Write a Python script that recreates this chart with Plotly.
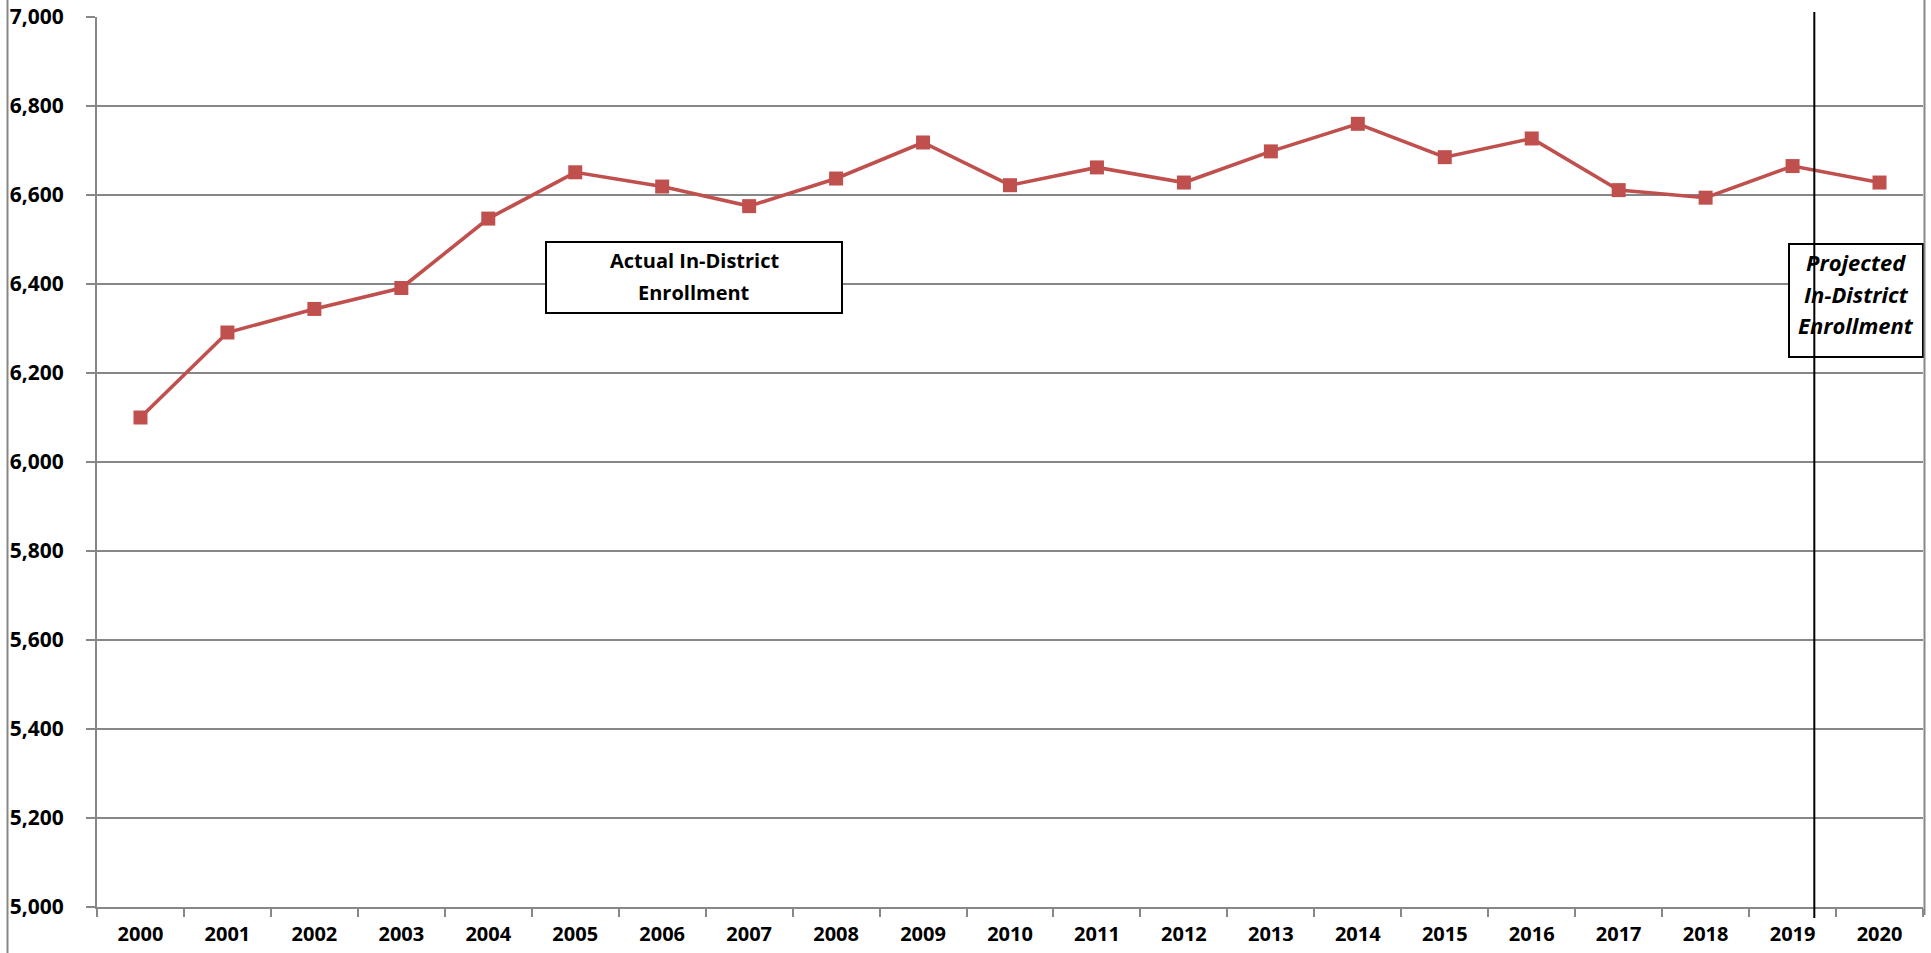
import plotly.graph_objects as go

years = [str(y) for y in range(2000, 2021)]
enrollment = [6100, 6291, 6344, 6391, 6547, 6651, 6619, 6575, 6637, 6718,
              6622, 6662, 6628, 6698, 6760, 6685, 6727, 6611, 6594, 6665, 6628]
y_ticks = list(range(5000, 7001, 200))
projection_divider = 19.25  # category-index position of divider line

# body margin removed by post_script, so page pixels == figure pixels
OFF = 0
W, H = 1931, 953
L, R, T, B = 97, 8, 17, 953 - 907
PW, PH = W - L - R, H - T - B

def px_x(p):  # page pixel -> paper fraction
    return (p - OFF - L) / PW

def px_y(p):
    return (H - B - (p - OFF)) / PH

RED = "#C0504D"
GRAY = "#878787"
FONT = "Open Sans"

fig = go.Figure()
fig.add_trace(go.Scatter(
    x=years, y=enrollment, mode="lines+markers",
    line=dict(color=RED, width=3.6),
    marker=dict(symbol="square", size=14, color=RED),
    showlegend=False, hoverinfo="x+y",
))

shapes = []
shapes.append(dict(type="rect", xref="paper", yref="paper",
                   x0=px_x(546), x1=px_x(842), y0=px_y(313), y1=px_y(242),
                   line=dict(color="black", width=2), fillcolor="white", layer="above"))
shapes.append(dict(type="rect", xref="paper", yref="paper",
                   x0=px_x(1789), x1=px_x(1923), y0=px_y(357), y1=px_y(244),
                   line=dict(color="black", width=2), fillcolor="white", layer="above"))
shapes.append(dict(type="line", xref="x", yref="paper",
                   x0=projection_divider, x1=projection_divider,
                   y0=px_y(918), y1=px_y(12),
                   line=dict(color="black", width=2), layer="above"))
shapes.append(dict(type="line", xref="paper", yref="paper",
                   x0=px_x(7.5), x1=px_x(7.5), y0=px_y(953), y1=px_y(0),
                   line=dict(color=GRAY, width=2)))
shapes.append(dict(type="line", xref="paper", yref="paper",
                   x0=px_x(1924.5), x1=px_x(1924.5), y0=px_y(915), y1=px_y(0),
                   line=dict(color=GRAY, width=2)))

annotations = []
for text, yc in [("Actual In-District", 260), ("Enrollment", 292)]:
    annotations.append(dict(xref="paper", yref="paper", x=px_x(694), y=px_y(yc),
                            text=text, showarrow=False, xanchor="center", yanchor="middle",
                            font=dict(family=FONT, size=20, color="black", weight="bold")))
for text, yc in [("Projected", 262), ("In-District", 294), ("Enrollment", 325)]:
    annotations.append(dict(xref="paper", yref="paper", x=px_x(1856), y=px_y(yc),
                            text="<i>" + text + "</i>", showarrow=False,
                            xanchor="center", yanchor="middle",
                            font=dict(family=FONT, size=22, color="black", weight="bold")))

fig.update_layout(
    width=W, height=H,
    margin=dict(l=L, r=R, t=T, b=B, pad=0, autoexpand=False),
    paper_bgcolor="white", plot_bgcolor="white",
    shapes=shapes, annotations=annotations, showlegend=False,
    xaxis=dict(
        type="category", range=[-0.5, len(years) - 0.5], automargin=False,
        tickson="boundaries", ticks="outside", ticklen=8, tickwidth=2, tickcolor=GRAY,
        showline=True, linecolor=GRAY, linewidth=2, showgrid=False,
        tickfont=dict(family=FONT, size=20, color="black", weight="bold"),
        ticklabelstandoff=8, ticklabeloverflow="allow", fixedrange=True,
    ),
    yaxis=dict(
        range=[5000, 7000], tickvals=y_ticks, tickformat=",", automargin=False,
        ticks="outside", ticklen=9, tickwidth=2, tickcolor=GRAY,
        showline=True, linecolor=GRAY, linewidth=2,
        showgrid=True, gridcolor=GRAY, gridwidth=2, zeroline=False,
        tickfont=dict(family=FONT, size=21, color="black", weight="bold"),
        ticklabelstandoff=18, ticklabeloverflow="allow", fixedrange=True,
    ),
)

fig.write_html(
    "out.html",
    config={"displayModeBar": False},
    post_script="document.body.style.margin='0';document.body.style.overflow='hidden';",
)
